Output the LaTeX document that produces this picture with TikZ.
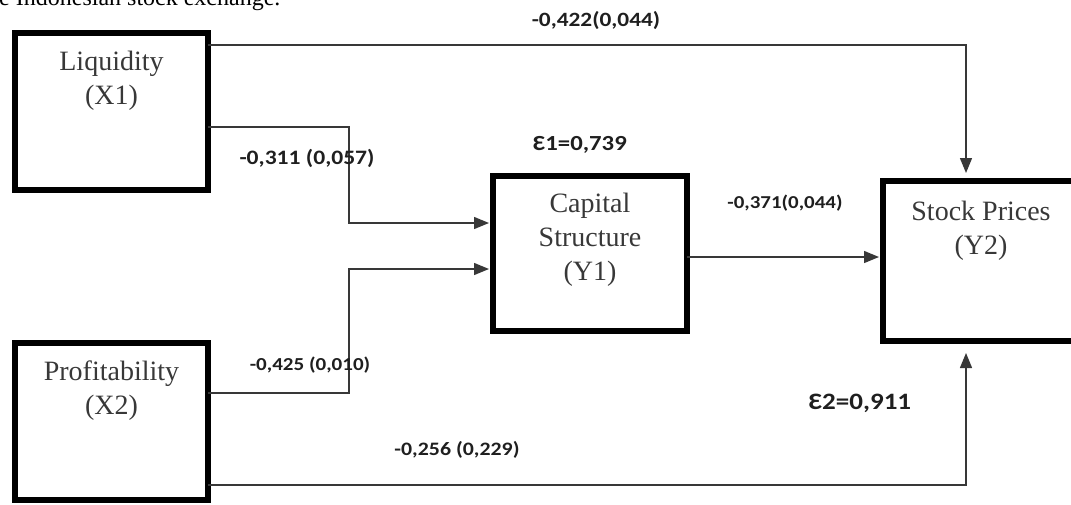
\documentclass[tikz,border=0pt]{standalone}
\usepackage{fontspec}
\setmainfont{Liberation Serif}
\newfontfamily\labfont[FakeStretch=1.15]{Carlito}
\usetikzlibrary{arrows.meta}
\begin{document}
\begin{tikzpicture}[x=1pt,y=-1pt,
  box/.style={draw=black, line width=5.5pt, inner sep=0pt, outer sep=0pt},
  boxtext/.style={font=\fontsize{28}{34}\selectfont, text=black!78, align=center, inner sep=0pt},
  capt/.style={font=\fontsize{24}{28}\selectfont, text=black, inner sep=0pt},
  conn/.style={line width=1.4pt, draw=black!78},
  arr/.style={conn, -{Triangle[length=15pt,width=12pt]}},
  lab/.style={text=black!88, inner sep=0pt, font=\labfont\bfseries\fontsize{#1}{#1}\selectfont},
  lab/.default=20]
\useasboundingbox (0,0) rectangle (1071,504);
\clip (0,0) rectangle (1071,504);
\node[capt, anchor=base west] (capt) at (-1,5.5) {e Indonesian stock exchange.};
% boxes
\node[box, minimum width=193pt, minimum height=157pt,
  label={[boxtext, anchor=north, yshift=-18pt]north:Liquidity\\(X1)}] (x1) at (111.5,111.5) {};
\node[box, minimum width=193pt, minimum height=157pt,
  label={[boxtext, anchor=north, yshift=-18pt]north:Profitability\\(X2)}] (x2) at (111.5,421.5) {};
\node[box, minimum width=194pt, minimum height=155pt,
  label={[boxtext, anchor=north, yshift=-17pt]north:Capital\\Structure\\(Y1)}] (y1) at (590,253.5) {};
\node[box, minimum width=196pt, minimum height=160pt,
  label={[boxtext, anchor=north, yshift=-20pt]north:Stock Prices\\(Y2)}] (y2) at (981,261) {};
% connectors
\draw[arr, shorten >=8pt] (x1.east |- 0,45) -| (y2.north -| 966,0);
\draw[arr, shorten >=4pt] (x1.east |- 0,127) -| (349,223) -- (y1.west |- 0,223);
\draw[arr, shorten >=4pt] (x2.east |- 0,393) -| (349,269) -- (y1.west |- 0,269);
\draw[arr, shorten >=4pt] (y1.east |- 0,257) -- (y2.west |- 0,257);
\draw[arr, shorten >=12pt] (x2.east |- 0,485) -| (y2.south -| 966,0);
% labels
\node[lab=20.3] (l1) at (596,20) {-0,422(0,044)};
\node[lab=20.5] (l2) at (307,158) {-0,311 (0,057)};
\node[lab=21.5] (e1) at (580,145) {Ɛ1=0,739};
\node[lab=18.2] (l3) at (785,203) {-0,371(0,044)};
\node[lab=18.3] (l4) at (310,365) {-0,425 (0,010)};
\node[lab=19] (l5) at (457,450) {-0,256 (0,229)};
\node[lab=23.5] (e2) at (860,403) {Ɛ2=0,911};
\end{tikzpicture}
\end{document}
